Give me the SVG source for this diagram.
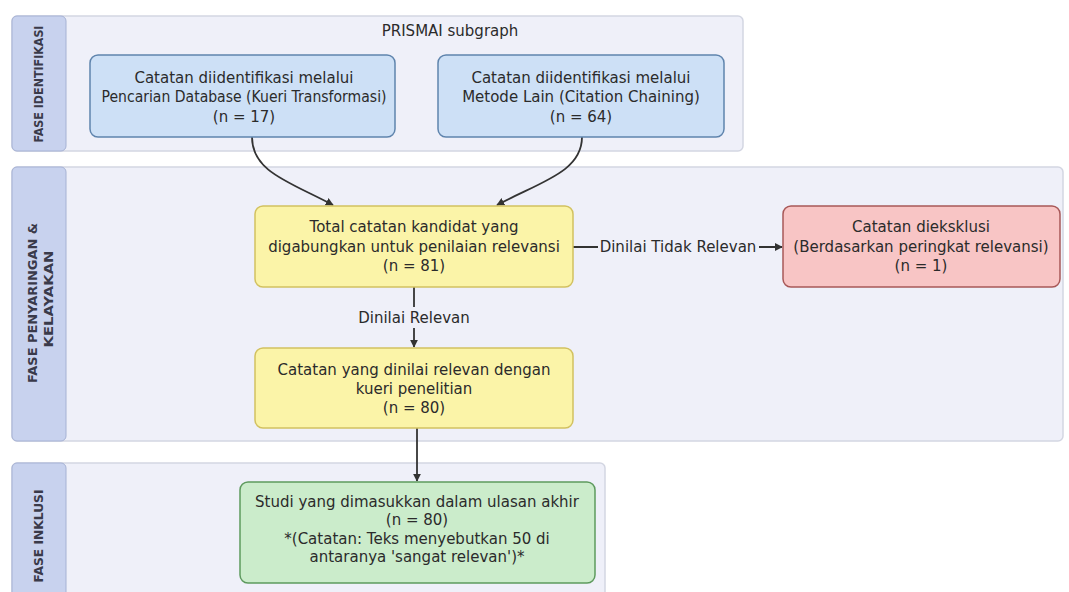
<svg xmlns="http://www.w3.org/2000/svg" width="1069" height="592" viewBox="0 0 1069 592">
  <defs>
    <marker id="arrow" viewBox="0 0 10 10" refX="9" refY="5" markerWidth="8" markerHeight="8" markerUnits="userSpaceOnUse" orient="auto">
      <path d="M0,0 L10,5 L0,10 z" fill="#333"/>
    </marker>
    <style>
      text { font-family: "DejaVu Sans", Verdana, sans-serif; fill: #2b2b2b; }
      .t { font-size: 15px; text-anchor: middle; }
      .lane { fill: #eff0f9; stroke: #d3d6e2; stroke-width: 1.5; }
      .strip { fill: #c8d2ee; stroke: #a6b2d4; stroke-width: 1; }
      .sl { font-size: 12.5px; font-weight: bold; text-anchor: middle; fill: #3a3a4a; }
      .blue { fill: #cde0f6; stroke: #5f84ad; stroke-width: 1.5; }
      .yellow { fill: #fbf4a8; stroke: #d2c160; stroke-width: 1.5; }
      .red { fill: #f8c5c5; stroke: #a85858; stroke-width: 1.5; }
      .green { fill: #cbeccb; stroke: #5e9a5e; stroke-width: 1.5; }
      .edge { fill: none; stroke: #333; stroke-width: 1.8; }
      .lbg { fill: #eff0f9; }
    </style>
  </defs>
  <rect width="1069" height="592" fill="#ffffff"/>

  <g id="lane-identifikasi">
    <rect class="lane" x="12" y="16" width="731" height="135" rx="5"/>
    <rect class="strip" x="12" y="16" width="54" height="135" rx="5"/>
    <text class="sl" x="43" y="84" transform="rotate(-90 43 84)" textLength="117" lengthAdjust="spacingAndGlyphs">FASE IDENTIFIKASI</text>
    <text class="t" x="450" y="36">PRISMAI subgraph</text>
  </g>

  <g id="lane-penyaringan">
    <rect class="lane" x="12" y="167" width="1051" height="274" rx="5"/>
    <rect class="strip" x="12" y="167" width="54" height="274" rx="5"/>
    <text class="sl" x="37" y="303" transform="rotate(-90 37 303)" textLength="160" lengthAdjust="spacingAndGlyphs">FASE PENYARINGAN &amp;</text>
    <text class="sl" x="53" y="299" transform="rotate(-90 53 299)" textLength="97" lengthAdjust="spacingAndGlyphs">KELAYAKAN</text>
  </g>

  <g id="lane-inklusi">
    <rect class="lane" x="12" y="463" width="593" height="140" rx="5"/>
    <rect class="strip" x="12" y="463" width="54" height="140" rx="5"/>
    <text class="sl" x="43" y="536" transform="rotate(-90 43 536)" textLength="93" lengthAdjust="spacingAndGlyphs">FASE INKLUSI</text>
  </g>

  <g id="connectors">
    <path class="edge" d="M252,137 C252,172 290,182 333,205" marker-end="url(#arrow)"/>
    <path class="edge" d="M582,137 C582,172 540,182 497,205" marker-end="url(#arrow)"/>
    <path class="edge" d="M414,287 L414,347" marker-end="url(#arrow)"/>
    <rect class="lbg" x="356" y="307" width="116" height="21"/>
    <text class="t" x="414" y="323">Dinilai Relevan</text>
    <path class="edge" d="M573,247 L782,247" marker-end="url(#arrow)"/>
    <rect class="lbg" x="598" y="237" width="161" height="21"/>
    <text class="t" x="678" y="252">Dinilai Tidak Relevan</text>
    <path class="edge" d="M417,428 L417,481" marker-end="url(#arrow)"/>
  </g>

  <g id="node-database">
    <rect class="blue" x="90" y="55" width="305" height="82" rx="8"/>
    <text class="t" x="244" y="83">Catatan diidentifikasi melalui</text>
    <text class="t" x="244" y="102" textLength="285" lengthAdjust="spacingAndGlyphs">Pencarian Database (Kueri Transformasi)</text>
    <text class="t" x="244" y="122">(n = 17)</text>
  </g>

  <g id="node-lain">
    <rect class="blue" x="438" y="55" width="286" height="82" rx="8"/>
    <text class="t" x="581" y="83">Catatan diidentifikasi melalui</text>
    <text class="t" x="581" y="102">Metode Lain (Citation Chaining)</text>
    <text class="t" x="581" y="122">(n = 64)</text>
  </g>

  <g id="node-total">
    <rect class="yellow" x="255" y="206" width="318" height="81" rx="8"/>
    <text class="t" x="414" y="232">Total catatan kandidat yang</text>
    <text class="t" x="414" y="252">digabungkan untuk penilaian relevansi</text>
    <text class="t" x="414" y="271">(n = 81)</text>
  </g>

  <g id="node-eksklusi">
    <rect class="red" x="783" y="206" width="277" height="81" rx="8"/>
    <text class="t" x="921" y="232">Catatan dieksklusi</text>
    <text class="t" x="921" y="252">(Berdasarkan peringkat relevansi)</text>
    <text class="t" x="921" y="271">(n = 1)</text>
  </g>

  <g id="node-relevan">
    <rect class="yellow" x="255" y="348" width="318" height="80" rx="8"/>
    <text class="t" x="414" y="375">Catatan yang dinilai relevan dengan</text>
    <text class="t" x="414" y="394">kueri penelitian</text>
    <text class="t" x="414" y="413">(n = 80)</text>
  </g>

  <g id="node-studi">
    <rect class="green" x="240" y="482" width="355" height="101" rx="8"/>
    <text class="t" x="417" y="507">Studi yang dimasukkan dalam ulasan akhir</text>
    <text class="t" x="417" y="525">(n = 80)</text>
    <text class="t" x="417" y="544">*(Catatan: Teks menyebutkan 50 di</text>
    <text class="t" x="417" y="562">antaranya 'sangat relevan')*</text>
  </g>
</svg>
